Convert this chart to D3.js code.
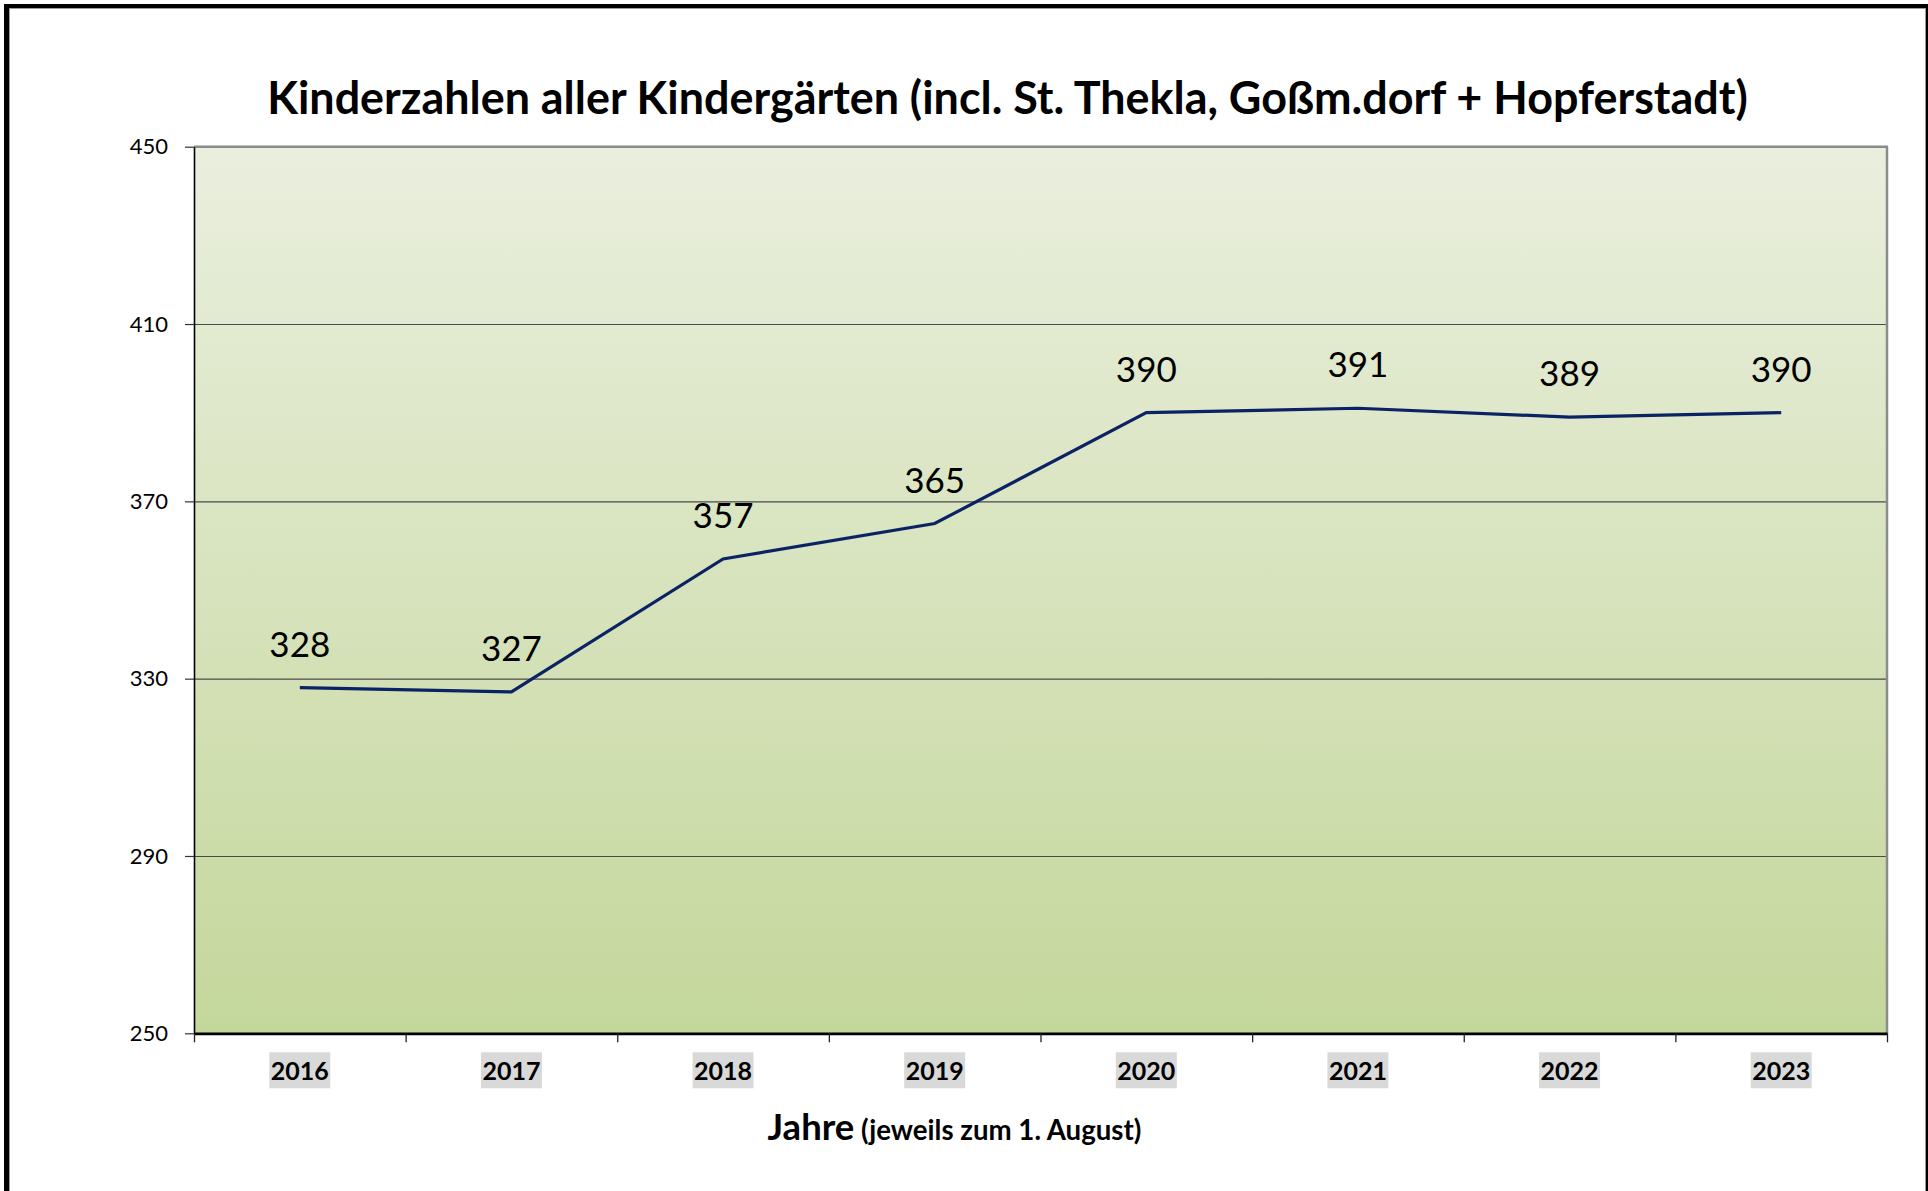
<!DOCTYPE html>
<html>
<head>
<meta charset="utf-8">
<script src="https://cdn.jsdelivr.net/npm/d3@7"></script>
<style>
  html, body { margin: 0; padding: 0; background: #fff; }
  svg { display: block; font-family: Lato, "Open Sans", sans-serif; }
</style>
</head>
<body>
<svg id="chart" width="1928" height="1191"></svg>
<script>
// ---- data ----
const years = ["2016", "2017", "2018", "2019", "2020", "2021", "2022", "2023"];
const children = [328, 327, 357, 365, 390, 391, 389, 390];
const yTicks = [250, 290, 330, 370, 410, 450];
const titleText = "Kinderzahlen aller Kindergärten (incl. St. Thekla, Goßm.dorf + Hopferstadt)";
const xTitleMain = "Jahre";
const xTitleSub = " (jeweils zum 1. August)";

// ---- layout ----
const W = 1928, H = 1191;
const plot = { left: 194, right: 1887, top: 146.7, bottom: 1033.3 };

const svg = d3.select("#chart");

// outer frame (no bottom edge visible)
svg.append("line").attr("x1", 6.5).attr("x2", 6.5).attr("y1", 4).attr("y2", H)
  .attr("stroke", "#000").attr("stroke-width", 5);
svg.append("line").attr("x1", 4).attr("x2", W).attr("y1", 6).attr("y2", 6)
  .attr("stroke", "#000").attr("stroke-width", 4);
svg.append("line").attr("x1", W - 1).attr("x2", W - 1).attr("y1", 4).attr("y2", H)
  .attr("stroke", "#000").attr("stroke-width", 2);
svg.append("line").attr("x1", 9.5).attr("x2", 9.5).attr("y1", 8).attr("y2", H)
  .attr("stroke", "#9a9a9a").attr("stroke-width", 1);
svg.append("line").attr("x1", 9).attr("x2", W - 2).attr("y1", 8.5).attr("y2", 8.5)
  .attr("stroke", "#9a9a9a").attr("stroke-width", 1);
svg.append("line").attr("x1", W - 2.5).attr("x2", W - 2.5).attr("y1", 8).attr("y2", H)
  .attr("stroke", "#9a9a9a").attr("stroke-width", 1);

// gradient
const defs = svg.append("defs");
const grad = defs.append("linearGradient").attr("id", "bg")
  .attr("x1", 0).attr("y1", 0).attr("x2", 0).attr("y2", 1);
grad.append("stop").attr("offset", "0%").attr("stop-color", "#EAEFDE");
grad.append("stop").attr("offset", "100%").attr("stop-color", "#C4D79B");

// scales
const x = d3.scaleBand().domain(years).range([plot.left, plot.right]).padding(0);
const xEdges = d3.scaleLinear().domain([0, years.length]).range([plot.left, plot.right]);
const y = d3.scaleLinear().domain([250, 450]).range([plot.bottom, plot.top]);

// plot background
svg.append("rect")
  .attr("x", plot.left).attr("y", plot.top)
  .attr("width", plot.right - plot.left).attr("height", plot.bottom - plot.top)
  .attr("fill", "url(#bg)");

// gridlines
const grid = svg.append("g").attr("transform", `translate(${plot.left},0)`)
  .call(d3.axisLeft(y).tickValues(yTicks.filter(v => v !== 250 && v !== 450))
    .tickSize(-(plot.right - plot.left)).tickFormat(""));
grid.select(".domain").remove();
grid.selectAll(".tick line").attr("stroke", "#4a4a4a").attr("stroke-width", 1.2);

// top and right plot border (gray)
svg.append("line").attr("x1", plot.left).attr("x2", plot.right + 1)
  .attr("y1", plot.top).attr("y2", plot.top)
  .attr("stroke", "#8c8c8c").attr("stroke-width", 2.5);
svg.append("line").attr("x1", plot.right).attr("x2", plot.right)
  .attr("y1", plot.top).attr("y2", plot.bottom)
  .attr("stroke", "#8c8c8c").attr("stroke-width", 2.5);

// y axis
const yAxis = svg.append("g").attr("transform", `translate(${plot.left},0)`)
  .call(d3.axisLeft(y).tickValues(yTicks).tickSize(9).tickPadding(17).tickSizeOuter(0));
yAxis.select(".domain").attr("stroke", "#000").attr("stroke-width", 1.6);
yAxis.selectAll(".tick line").attr("stroke", "#333").attr("stroke-width", 1.2);
yAxis.selectAll(".tick text")
  .attr("font-family", "Lato, sans-serif").attr("font-size", 22).attr("fill", "#000");

// x axis tick marks at band edges
const xTicks = svg.append("g").attr("transform", `translate(0,${plot.bottom})`)
  .call(d3.axisBottom(xEdges).tickValues(d3.range(0, years.length + 1))
    .tickSize(9).tickFormat("").tickSizeOuter(0));
xTicks.select(".domain").attr("stroke", "#000").attr("stroke-width", 2.8);
xTicks.selectAll(".tick line").attr("stroke", "#222").attr("stroke-width", 1.3);

// x axis labels
const xLab = svg.append("g").attr("transform", `translate(0,${plot.bottom})`)
  .call(d3.axisBottom(x).tickSize(0).tickPadding(0));
xLab.select(".domain").remove();
xLab.selectAll(".tick text")
  .attr("font-family", "Lato, sans-serif").attr("font-size", 25)
  .attr("font-weight", "bold").attr("fill", "#000")
  .attr("y", 47).attr("dy", 0);
xLab.selectAll(".tick").each(function () {
  const g = d3.select(this);
  const t = g.select("text");
  const w = t.node().getComputedTextLength();
  g.insert("rect", "text")
    .attr("x", -w / 2 - 1.5).attr("y", 19)
    .attr("width", w + 3).attr("height", 36)
    .attr("fill", "#D9D9D9");
});

// line
const line = d3.line()
  .x((d, i) => x(years[i]) + x.bandwidth() / 2)
  .y(d => y(d));
svg.append("path").datum(children)
  .attr("d", line)
  .attr("fill", "none")
  .attr("stroke", "#0B2364")
  .attr("stroke-width", 3.2)
  .attr("stroke-linejoin", "miter");

// data labels
svg.append("g").selectAll("text").data(children).join("text")
  .attr("x", (d, i) => x(years[i]) + x.bandwidth() / 2)
  .attr("y", d => y(d) - 31)
  .attr("text-anchor", "middle")
  .attr("font-family", "Lato, sans-serif")
  .attr("font-size", 35)
  .attr("fill", "#000")
  .text(d => d);

// title
const title = svg.append("text")
  .attr("x", 1007.5).attr("y", 113.5)
  .attr("text-anchor", "middle")
  .attr("font-family", "Lato, sans-serif")
  .attr("font-weight", "bold")
  .attr("font-size", 40)
  .attr("fill", "#000")
  .text(titleText);
{
  const w = title.node().getComputedTextLength();
  title.attr("font-size", 40 * 1481 / w);
}

// x axis title
const xt = svg.append("text")
  .attr("x", 954.5).attr("y", 1140)
  .attr("text-anchor", "middle")
  .attr("font-family", "Lato, sans-serif")
  .attr("font-weight", "bold")
  .attr("fill", "#000");
xt.append("tspan").attr("font-size", 33).text(xTitleMain);
xt.append("tspan").attr("font-size", 25).text(xTitleSub);
{
  const w = xt.node().getComputedTextLength();
  const s = 374 / w;
  xt.selectAll("tspan").each(function () {
    const t = d3.select(this);
    t.attr("font-size", +t.attr("font-size") * s);
  });
}
</script>
</body>
</html>
